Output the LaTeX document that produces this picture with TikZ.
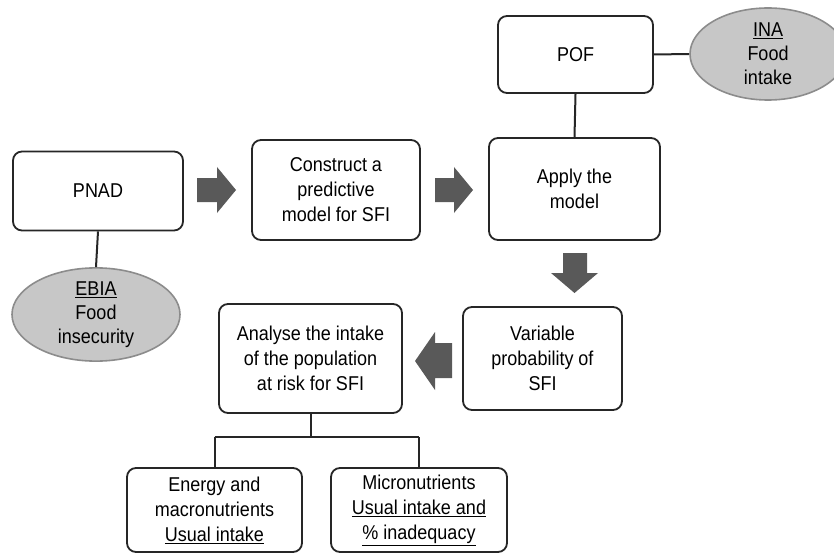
\documentclass[tikz,border=0pt]{standalone}
\usepackage{fontspec}
\setmainfont{Liberation Sans}[FakeStretch=0.9]
\usetikzlibrary{shapes.geometric}
\begin{document}
\begin{tikzpicture}[x=1pt,y=-1pt,
  box/.style={draw=black!85, line width=1.8pt, rounded corners=9pt, fill=white, align=center,
    font=\fontsize{20}{25}\selectfont, inner sep=0pt},
  oval/.style={ellipse, draw=black!45, line width=1.6pt, fill=black!22, align=center,
    font=\fontsize{20}{24}\selectfont, inner sep=0pt},
  link/.style={draw=black!85, line width=2pt},
  blockarrow/.style={fill=black!65, draw=none}]
\useasboundingbox (0,0) rectangle (834,556);
\begin{scope}
\clip (0,0) rectangle (834,556);
% nodes
\node[box, minimum width=170pt, minimum height=79pt] (pnad) at (98,191) {PNAD};
\node[box, minimum width=168pt, minimum height=100pt] (construct) at (336,190) {Construct a\\predictive\\model for SFI};
\node[box, minimum width=171pt, minimum height=102pt] (apply) at (574.5,189) {Apply the\\model};
\node[box, minimum width=155pt, minimum height=77pt] (pof) at (575.5,54.5) {POF};
\node[oval, minimum width=156pt, minimum height=92pt] (ina) at (768,54) {\underline{INA}\\Food\\intake};
\node[oval, minimum width=168pt, minimum height=93pt] (ebia) at (96,314.5) {\underline{EBIA}\\Food\\insecurity};
\node[box, minimum width=159pt, minimum height=103pt] (variable) at (542.5,358.5) {Variable\\probability of\\SFI};
\node[box, minimum width=183pt, minimum height=109pt] (analyse) at (310.5,358.5) {Analyse the intake\\of the population\\at risk for SFI};
\node[box, minimum width=175pt, minimum height=84pt] (energy) at (214.5,510) {Energy and\\macronutrients\\\underline{Usual intake}};
\node[box, minimum width=176pt, minimum height=84pt] (micro) at (419,510) {Micronutrients\\\underline{Usual intake and}\\\underline{\% inadequacy}};
% connectors
\draw[link] (pnad.south) -- (ebia.north);
\draw[link] (pof.east) -- (ina.west);
\draw[link] (pof.south) -- (apply.north);
\coordinate (fork) at (analyse.south |- 0,437);
\draw[link] (analyse.south) -- (fork);
\draw[link] (energy.north |- fork) -- (micro.north |- fork);
\draw[link] (energy.north |- fork) -- (energy.north);
\draw[link] (micro.north |- fork) -- (micro.north);
% block arrows
\fill[blockarrow] (197,178) -- (217,178) -- (217,167) -- (236,190) -- (217,213) -- (217,202) -- (197,202) -- cycle;
\fill[blockarrow] (435,178) -- (454,178) -- (454,167) -- (473,190) -- (454,213) -- (454,202) -- (435,202) -- cycle;
\fill[blockarrow] (563,253) -- (587,253) -- (587,273) -- (598,273) -- (574.5,293) -- (551,273) -- (563,273) -- cycle;
\fill[blockarrow] (452,343) -- (452,378) -- (435,378) -- (435,390) -- (415,361) -- (435,332) -- (435,343) -- cycle;
\end{scope}
\end{tikzpicture}
\end{document}
